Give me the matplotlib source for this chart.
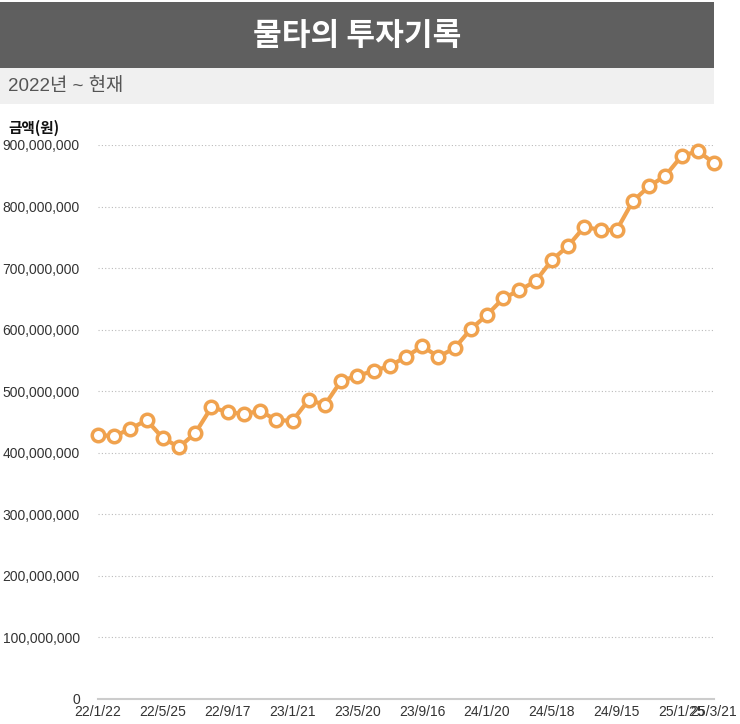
import matplotlib
matplotlib.use("Agg")
import matplotlib.pyplot as plt
from matplotlib.patches import Rectangle
from matplotlib.ticker import FuncFormatter

plt.rcParams['font.family'] = ['Liberation Sans', 'Noto Sans CJK KR', 'DejaVu Sans']

title = "물타의 투자기록"
subtitle = "2022년 ~ 현재"
y_label = "금액(원)"

values_m = [429, 427, 439, 453, 424, 409, 432, 474, 466, 463, 468, 453, 452,
            486, 478, 517, 525, 533, 541, 556, 573, 556, 570, 601, 624, 651,
            664, 679, 713, 736, 767, 762, 762, 809, 833, 850, 882, 890, 871]
tick_positions = [0, 4, 8, 12, 16, 20, 24, 28, 32, 36, 38]
tick_labels = ["22/1/22", "22/5/25", "22/9/17", "23/1/21", "23/5/20", "23/9/16",
               "24/1/20", "24/5/18", "24/9/15", "25/1/25", "25/3/21"]
y_ticks = [0, 100e6, 200e6, 300e6, 400e6, 500e6, 600e6, 700e6, 800e6, 900e6]

values = [v * 1e6 for v in values_m]
x = list(range(len(values)))

W, H = 740, 724
fig = plt.figure(figsize=(W / 100, H / 100), dpi=100)

# header bars
fig.patches.append(Rectangle((0, (H - 68) / H), 714 / W, 66 / H, transform=fig.transFigure,
                             facecolor="#5f5f5f", edgecolor="none"))
fig.patches.append(Rectangle((0, (H - 104) / H), 714 / W, 36 / H, transform=fig.transFigure,
                             facecolor="#f0f0f0", edgecolor="none"))
fig.text(357 / W, (H - 36) / H, title, color="white", fontsize=22.5, fontweight="bold",
         ha="center", va="center", family=['Noto Sans CJK KR', 'DejaVu Sans'])
fig.text(8 / W, (H - 87) / H, subtitle, color="#555555", fontsize=13.5,
         ha="left", va="center", family=['Liberation Sans', 'Noto Sans CJK KR'])
fig.text(8 / W, (H - 128) / H, y_label, color="#111111", fontsize=10.5, fontweight="bold",
         ha="left", va="center", family=['Noto Sans CJK KR', 'DejaVu Sans'])

ax = fig.add_axes([98 / W, (H - 699) / H, (714 - 98) / W, (699 - 145) / H])
ax.set_xlim(0, len(values) - 1)
ax.set_ylim(0, 900e6)

ax.plot(x, values, color="#f0a24e", linewidth=3, marker="o", markersize=9,
        markerfacecolor="white", markeredgecolor="#f0a24e", markeredgewidth=2.5,
        clip_on=False, zorder=3)

ax.set_yticks(y_ticks)
ax.yaxis.set_major_formatter(FuncFormatter(lambda v, p: f"{int(v):,}"))
ax.set_xticks(tick_positions)
ax.set_xticklabels(tick_labels)
ax.tick_params(axis="both", length=0, labelsize=10, colors="#333333")
ax.tick_params(axis="y", pad=13)
ax.tick_params(axis="x", pad=4)

for y in y_ticks[1:]:
    ax.axhline(y, color="#bbbbbb", linewidth=0.8, linestyle=(0, (1, 2)), zorder=1)
for s in ["top", "right", "left"]:
    ax.spines[s].set_visible(False)
ax.spines["bottom"].set_color("#cccccc")
ax.spines["bottom"].set_linewidth(1.5)

fig.savefig("out.png", dpi=100)
